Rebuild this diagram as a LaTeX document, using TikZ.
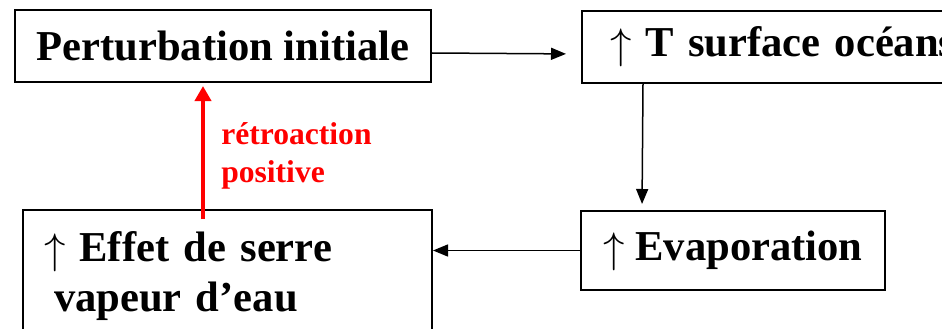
\documentclass[tikz,border=0pt]{standalone}
\usepackage{fontspec}
\usepackage{graphicx}
\setmainfont{Liberation Serif}
\usetikzlibrary{arrows.meta,positioning}
\newcommand{\hausse}{\raisebox{-2pt}{\resizebox*{!}{38pt}{$\uparrow$}}}
\begin{document}
\begin{tikzpicture}[x=1pt,y=-1pt,
    box/.style={draw,line width=2pt,inner sep=0pt,font=\fontsize{42.6}{50}\selectfont\bfseries},
    fleche/.style={line width=1.5pt,-{Triangle[length=15pt,width=12pt]}},
    retro/.style={draw=red,line width=4.5pt,-{Triangle[length=15pt,width=16pt]}},
    retrotxt/.style={red,inner sep=0pt,align=left,font=\fontsize{31.6}{38}\selectfont\bfseries}]
        \clip (0,0) rectangle (942,329);
        \node[box,minimum width=416pt,minimum height=72pt] (A) at (223,46) {Perturbation initiale};
        \node[box,anchor=north west,minimum height=72pt,text width=380pt,align=left,inner xsep=28pt] (B) at (581,10) {\hausse{} T surface océans};
        \node[box,minimum width=304pt,minimum height=79pt] (C) at (733,250.5) {\hausse{} Evaporation};
        \node[box,anchor=north west,text width=367pt,align=left,inner xsep=21pt,inner ysep=22pt] (D) at (22,209) {\hausse{} Effet de serre\\\hspace*{10pt}vapeur d’eau};

        \draw[fleche,shorten >=15pt] ([yshift=-7pt]A.east) -- ([yshift=-7pt]B.west);
        \draw[fleche,shorten >=6pt] ([xshift=62pt]B.south west) -- ([xshift=62pt]C.north west);
        \draw[fleche] (C.west) -- (C.west -| D.east);
        \draw[retro,shorten <=-10pt,shorten >=3pt] ([xshift=181pt]D.north west) -- ([xshift=181pt]D.north west |- A.south) node[retrotxt,pos=0.42,right=16pt] (R) {rétroaction\\positive};
      \end{tikzpicture}
\end{document}
